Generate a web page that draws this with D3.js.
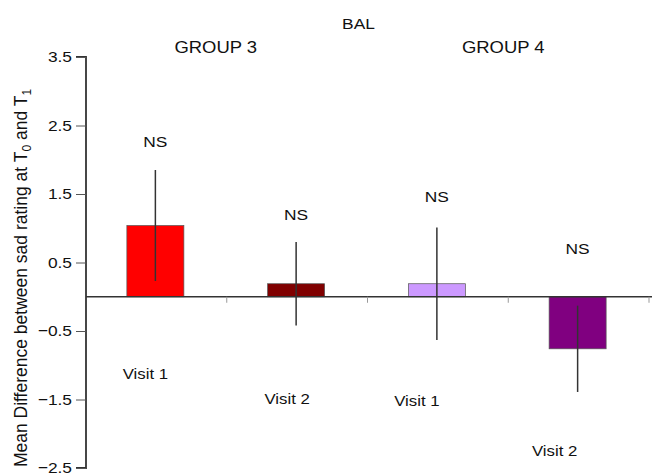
<!DOCTYPE html>
<html>
<head>
<meta charset="utf-8">
<script src="https://cdn.jsdelivr.net/npm/d3@7"></script>
<style>
  html, body { margin: 0; padding: 0; background: #fff; }
  svg { display: block; font-family: "Liberation Sans", Arial, sans-serif; }
</style>
</head>
<body>
<svg id="chart" width="652" height="475"></svg>
<script>
// ---- data ----
const categories = ["G3-V1", "G3-V2", "G4-V1", "G4-V2"];
const visitLabels = ["Visit 1", "Visit 2", "Visit 1", "Visit 2"];
const groupLabels = ["GROUP 3", "GROUP 4"];
const means = [1.04, 0.19, 0.19, -0.76];
const errors = [0.81, 0.61, 0.82, 0.63];
const sigLabels = ["NS", "NS", "NS", "NS"];
const yTicks = [3.5, 2.5, 1.5, 0.5, -0.5, -1.5, -2.5];
const title = "BAL";

// ---- styling / annotation layout ----
const barColors = ["#ff0000", "#800000", "#cc99ff", "#800080"];
const nsAnchor = [2.18, 1.12, 1.39, 0.63];      // in data units
const visitAnchor = [-1.2, -1.56, -1.6, -2.32];  // in data units
const visitDx = [-11, -10, -21, -24];
const groupDx = [-11, -5];

const svg = d3.select("#chart");

const y = d3.scaleLinear().domain([-2.5, 3.5]).range([468, 57]);
const x = d3.scaleBand().domain(categories).range([86, 649]).padding(0);
const barW = x.bandwidth() * 0.405;
const sx = 1.12;
const ink = "#111";

function hText(g, txt, cx, by, size, anchor) {
  return g.append("text")
    .attr("transform", `translate(${cx},${by}) scale(${sx},1)`)
    .attr("text-anchor", anchor || "middle")
    .attr("font-size", size)
    .attr("fill", ink)
    .text(txt);
}

// bars
svg.append("g").selectAll("rect").data(categories).join("rect")
  .attr("x", (d, i) => x(d) + x.bandwidth() / 2 - barW / 2 - 1)
  .attr("y", (d, i) => y(Math.max(0, means[i])))
  .attr("width", barW)
  .attr("height", (d, i) => Math.abs(y(means[i]) - y(0)))
  .attr("fill", (d, i) => barColors[i])
  .attr("stroke", "#555")
  .attr("stroke-width", 0.7);

// zero line + category ticks
const xAxisG = svg.append("g").attr("transform", `translate(0,${y(0)})`);
xAxisG.append("line").attr("x1", 86).attr("x2", 652).attr("stroke", "#333").attr("stroke-width", 1.6);
xAxisG.selectAll(".cattick").data(categories).join("line")
  .attr("class", "cattick")
  .attr("x1", d => x(d) + x.bandwidth()).attr("x2", d => x(d) + x.bandwidth())
  .attr("y1", 0).attr("y2", 6)
  .attr("stroke", "#999").attr("stroke-width", 1);

// error bars
svg.append("g").selectAll("line").data(categories).join("line")
  .attr("x1", d => x(d) + x.bandwidth() / 2 - 1)
  .attr("x2", d => x(d) + x.bandwidth() / 2 - 1)
  .attr("y1", (d, i) => y(means[i] + errors[i]))
  .attr("y2", (d, i) => y(means[i] - errors[i]))
  .attr("stroke", "#333").attr("stroke-width", 1.5);

// y axis
const yAxis = d3.axisLeft(y).tickValues(yTicks).tickFormat(d3.format(".1f")).tickSize(10).tickPadding(4);
const yG = svg.append("g").attr("transform", "translate(86,0)").call(yAxis);
yG.select(".domain").attr("stroke", "#333").attr("stroke-width", 1.8).attr("d", `M-10,${y(3.5)}H0V${y(-2.5)}H-10`);
yG.selectAll(".tick line").attr("stroke", "#555").attr("stroke-width", 1);
yG.selectAll(".tick text")
  .attr("font-size", 15.5)
  .attr("fill", ink)
  .attr("font-family", "Liberation Sans, Arial, sans-serif")
  .attr("transform", `translate(-14,0) scale(${sx},1) translate(14,0)`);

// y label
const yl = svg.append("text")
  .attr("transform", `translate(27,278) rotate(-90)`)
  .attr("text-anchor", "middle")
  .attr("font-size", 17.5)
  .attr("fill", ink);
yl.append("tspan").text("Mean Difference between sad rating at T");
yl.append("tspan").attr("font-size", 12).attr("dy", 4).text("0");
yl.append("tspan").attr("dy", -4).text(" and T");
yl.append("tspan").attr("font-size", 12).attr("dy", 4).text("1");

// NS and visit labels
const ann = svg.append("g");
categories.forEach((c, i) => {
  hText(ann, sigLabels[i], x(c) + x.bandwidth() / 2 - 1, y(nsAnchor[i]), 15.5);
  hText(ann, visitLabels[i], x(c) + x.bandwidth() / 2 + visitDx[i], y(visitAnchor[i]), 15);
});

// group labels
groupLabels.forEach((g, k) => {
  const c1 = categories[k * 2], c2 = categories[k * 2 + 1];
  const cx = (x(c1) + x.bandwidth() / 2 + x(c2) + x.bandwidth() / 2) / 2 + groupDx[k];
  hText(ann, g, cx, 53, 16.5);
});

// title
const plotMid = (x.range()[0] + x.range()[1]) / 2;
hText(ann, title, plotMid - 9, 29, 15.5);
</script>
</body>
</html>
